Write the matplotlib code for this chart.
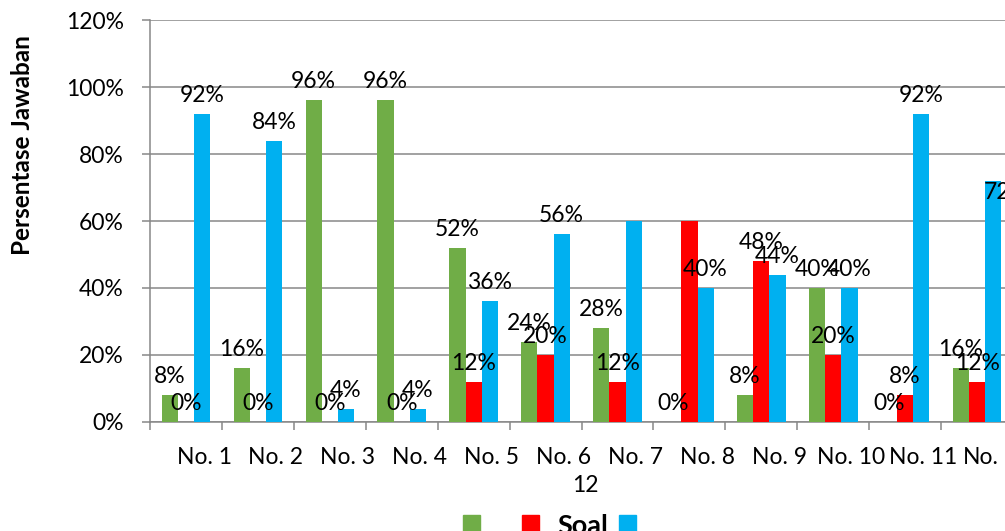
import matplotlib
matplotlib.use("Agg")
import matplotlib.pyplot as plt
import matplotlib.transforms as mtransforms
import numpy as np

plt.rcParams['font.family'] = ['Lato', 'DejaVu Sans']

categories = ['No. 1', 'No. 2', 'No. 3', 'No. 4', 'No. 5', 'No. 6',
              'No. 7', 'No. 8', 'No. 9', 'No. 10', 'No. 11', 'No.']
green_vals = [8, 16, 96, 96, 52, 24, 28, 0, 8, 40, 0, 16]
red_vals = [0, 0, 0, 0, 12, 20, 12, 60, 48, 20, 8, 12]
blue_vals = [92, 84, 4, 4, 36, 56, 60, 40, 44, 40, 92, 72]
yticks = [0, 20, 40, 60, 80, 100, 120]

# data labels that are not shown
hidden = {('blue', 6), ('red', 7)}

GREEN = '#70AD47'
RED = '#FF0000'
BLUE = '#00B0F0'
GRID = '#878787'

fig = plt.figure(figsize=(10.05, 5.31), dpi=100)
ax = fig.add_axes([0.1493, 0.2053, 0.8587, 0.757])

x = np.arange(len(categories))
w = 0.225
series = [('green', green_vals, GREEN, -w), ('red', red_vals, RED, 0), ('blue', blue_vals, BLUE, w)]

for name, vals, color, off in series:
    bars = ax.bar(x + off, vals, w, color=color, zorder=3, linewidth=0)
    for i, (b, v) in enumerate(zip(bars, vals)):
        if (name, i) in hidden:
            continue
        cx = b.get_x() + b.get_width() / 2
        if name == 'blue' and i == len(vals) - 1:
            # last label sits inside the bar top
            ax.annotate(f'{v}%', (b.get_x(), v), xytext=(-1, -1), textcoords='offset points',
                        ha='left', va='top', fontsize=16.5, zorder=5, annotation_clip=False)
        else:
            ax.annotate(f'{v}%', (cx, v), xytext=(0, 8.6), textcoords='offset points',
                        ha='center', va='baseline', fontsize=16.5, zorder=5, annotation_clip=False)

ax.set_xlim(-0.5, len(categories) - 0.5)
ax.set_ylim(0, 120)
ax.set_yticks(yticks)
ax.set_yticklabels([f'{t}%' for t in yticks], fontsize=16.5)
ax.yaxis.grid(True, color=GRID, linewidth=1.1, zorder=0)

# tick marks on group boundaries, names under the groups
ax.set_xticks(np.arange(len(categories) + 1) - 0.5)
ax.set_xticklabels([])
ax.set_xticks(x, minor=True)
ax.set_xticklabels(categories, minor=True, fontsize=16.5)
ax.tick_params(axis='x', which='major', length=6, width=1.1, color=GRID, direction='out')
ax.tick_params(axis='x', which='minor', length=0, pad=18)
ax.tick_params(axis='y', length=6, width=1.1, color=GRID, pad=13)
labels = ax.xaxis.get_minorticklabels()
for k, lbl in enumerate(labels):
    dx = 0.18 if k < len(labels) - 1 else 0.04
    lbl.set_transform(lbl.get_transform() + mtransforms.ScaledTranslation(dx, 0, fig.dpi_scale_trans))

fig.text(585 / 1005, 1 - 486 / 531, '12', ha='center', va='center', fontsize=16.5)

for s in ['top', 'right']:
    ax.spines[s].set_visible(False)
for s in ['left', 'bottom']:
    ax.spines[s].set_color(GRID)
    ax.spines[s].set_linewidth(1.1)

ax.set_ylabel('Persentase Jawaban', fontsize=17.5, fontweight='bold', va='center')
ax.yaxis.set_label_coords(-0.148, 0.69)

handles = [plt.Rectangle((0, 0), 1, 1, color=c) for c in (GREEN, RED, BLUE)]
fig.legend(handles, ['  ', 'Soal', ''], loc='center', bbox_to_anchor=(0.556, 0.01),
           ncol=3, frameon=False, handlelength=0.62, handleheight=0.62,
           handletextpad=0.7, columnspacing=0.38, borderpad=0,
           prop={'size': 19.5, 'weight': 'bold'})

fig.savefig('out.png', dpi=100)
